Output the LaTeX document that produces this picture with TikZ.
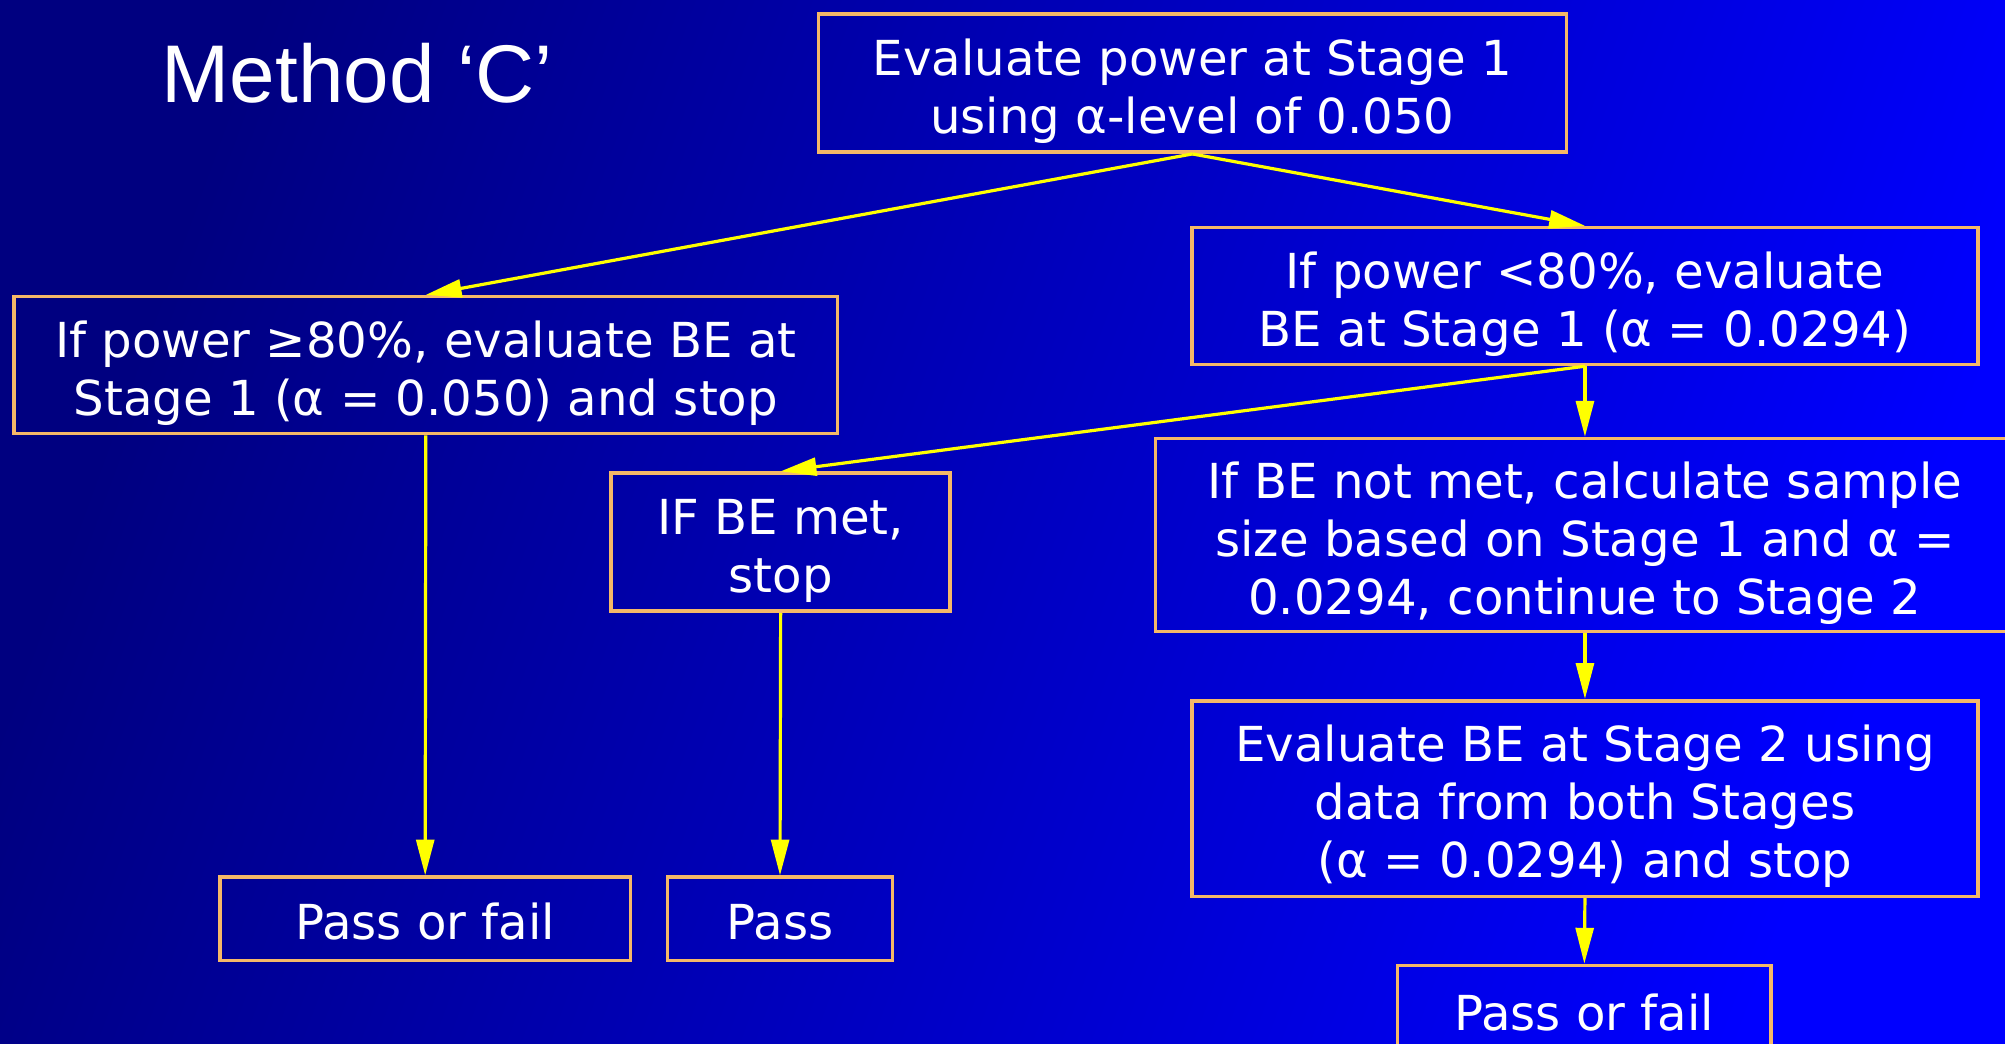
\documentclass[tikz,border=0pt]{standalone}
\usepackage{fontspec}
\setmainfont{DejaVu Sans}
\newfontfamily\titlefont{Liberation Sans}
\usetikzlibrary{arrows.meta}
\definecolor{bordc}{HTML}{F5B868}
\definecolor{arrc}{HTML}{FFFF00}
\definecolor{bgdark}{HTML}{000080}
\definecolor{bgmid}{HTML}{0000A6}
\definecolor{bglight}{HTML}{0000FF}
\newcommand\bxt[1]{\raisebox{-7.5pt}[\height][\depth]{\begin{tabular}{@{}c@{}}#1\end{tabular}}}
\begin{document}
\begin{tikzpicture}[x=1pt,y=1pt,
  box/.style={draw=bordc, line width=2.8pt, text=white, inner sep=0pt,
    font=\fontsize{37.7}{45.5}\selectfont},
  conn/.style={draw=arrc, line width=2.5pt, -{Triangle[length=28pt,width=14pt]}}]
\shade[top color=bgdark, middle color=bgmid, bottom color=bglight, shading angle=70] (0,0) rectangle (1568,816);
\useasboundingbox (0,0) rectangle (1568,816);

\node[anchor=base west, text=white, font=\titlefont\fontsize{64}{70}\selectfont] (title) at (123,736) {Method ‘C’};

\node[box, minimum width=585pt, minimum height=108pt] (top) at (932.5,751) {\bxt{Evaluate power at Stage 1\\using α-level of 0.050}};
\node[box, minimum width=644pt, minimum height=107pt] (left) at (333,530.5) {\bxt{If power ≥80\%, evaluate BE at\\Stage 1 (α = 0.050) and stop}};
\node[box, minimum width=615pt, minimum height=107pt] (r1) at (1239.5,584.5) {\bxt{If power <80\%, evaluate\\BE at Stage 1 (α = 0.0294)}};
\node[box, minimum width=265pt, minimum height=108pt] (mid) at (610.5,392) {\bxt{IF BE met,\\stop}};
\node[box, minimum width=672pt, minimum height=151pt] (r2) at (1239.5,397.5) {\bxt{If BE not met, calculate sample\\size based on Stage 1 and α =\\0.0294, continue to Stage 2}};
\node[box, minimum width=615pt, minimum height=153pt] (r3) at (1239.5,191.5) {\bxt{Evaluate BE at Stage 2 using\\data from both Stages\\(α = 0.0294) and stop}};
\node[box, minimum width=292pt, minimum height=68pt] (bot) at (1239,27) {\bxt{Pass or fail}};
\node[box, minimum width=321pt, minimum height=65pt] (pof) at (332.5,97.5) {\bxt{Pass or fail}};
\node[box, minimum width=176pt, minimum height=65pt] (pass) at (610,97.5) {\bxt{Pass}};

\draw[conn] (top.south) -- (left.north);
\draw[conn] (top.south) -- (r1.north);
\draw[conn] (r1.south) -- (mid.north);
\draw[conn] (r1.south) -- (r2.north);
\draw[conn] (left.south) -- (pof.north);
\draw[conn] (mid.south) -- (pass.north);
\draw[conn] (r2.south) -- (r3.north);
\draw[conn] (r3.south) -- (bot.north);
\end{tikzpicture}
\end{document}
